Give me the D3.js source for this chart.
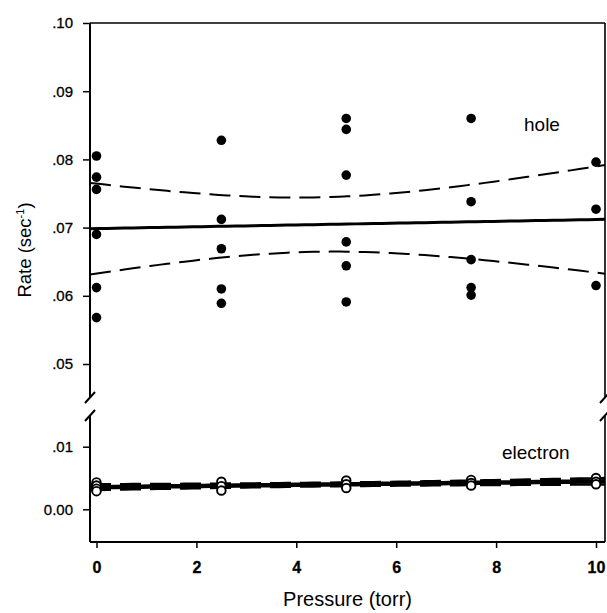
<!DOCTYPE html>
<html>
<head>
<meta charset="utf-8">
<script src="https://cdn.jsdelivr.net/npm/d3@7"></script>
<style>
  body { margin: 0; background: #fff; }
  svg { display: block; font-family: "Liberation Sans", Arial, sans-serif; }
</style>
</head>
<body>
<div id="chart"></div>
<script>
/**
 * CONSTANTS AND GLOBALS
 * */
const width = 607,
  height = 613,
  frame = { left: 90, right: 605, top: 23, bottom: 542 },
  breakTop = 397,
  breakBottom = 415;

/**
 * DATA
 * */
const ticksX = [0, 2, 4, 6, 8, 10];
const ticksHole = [0.05, 0.06, 0.07, 0.08, 0.09, 0.1];
const tickLabelsHole = [".05", ".06", ".07", ".08", ".09", ".10"];
const ticksElectron = [0, 0.01];
const tickLabelsElectron = ["0.00", ".01"];

const holePressure = [0, 0, 0, 0, 0, 0, 2.5, 2.5, 2.5, 2.5, 2.5, 5, 5, 5, 5, 5, 5, 7.5, 7.5, 7.5, 7.5, 7.5, 10, 10, 10];
const holeRate = [0.0805, 0.0774, 0.0756, 0.069, 0.0612, 0.0568,
  0.0828, 0.0712, 0.0669, 0.061, 0.0589,
  0.086, 0.0844, 0.0777, 0.0679, 0.0644, 0.0591,
  0.086, 0.0738, 0.0653, 0.0612, 0.0601,
  0.0796, 0.0727, 0.0615];

const electronPressure = [0, 0, 0, 0, 2.5, 2.5, 2.5, 5, 5, 5, 7.5, 7.5, 7.5, 10, 10, 10];
const electronRate = [0.0043, 0.0038, 0.0033, 0.0029,
  0.0044, 0.0037, 0.003,
  0.0046, 0.004, 0.0034,
  0.0047, 0.0042, 0.0038,
  0.005, 0.0044, 0.004];

// linear fit with 95% confidence band of the mean
function fit(xs, ys) {
  const n = xs.length,
    mx = d3.mean(xs),
    my = d3.mean(ys);
  const sxx = d3.sum(xs, v => (v - mx) ** 2);
  const sxy = d3.sum(xs, (v, i) => (v - mx) * (ys[i] - my));
  const b = sxy / sxx,
    a = my - b * mx;
  const sse = d3.sum(xs, (v, i) => (ys[i] - a - b * v) ** 2);
  const df = n - 2,
    s = Math.sqrt(sse / df),
    z = 1.959964;
  const t = z + (z ** 3 + z) / (4 * df) + (5 * z ** 5 + 16 * z ** 3 + 3 * z) / (96 * df * df);
  return p => {
    const yhat = a + b * p;
    const h = t * s * Math.sqrt(1 / n + (p - mx) ** 2 / sxx);
    return [yhat, yhat - h, yhat + h];
  };
}

/**
 * SCALES
 * */
const x = d3.scaleLinear().domain([0, 10]).range([96.5, 596]);
const yHole = d3.scaleLinear().domain([0.05, 0.1]).range([364, frame.top]);
const yElectron = d3.scaleLinear().domain([0, 0.01]).range([509.3, 446.7]);

const svg = d3.select("#chart")
  .append("svg")
  .attr("width", width)
  .attr("height", height);

// samples along the frame for the fitted curves
const x0 = x.invert(frame.left),
  x1 = x.invert(frame.right);
const samples = d3.range(0, 61).map(i => x0 + (x1 - x0) * i / 60);

function drawFit(xs, ys, yScale, solidWidth, dashWidth) {
  const f = fit(xs, ys);
  const styles = [
    { k: 0, w: solidWidth, dash: null },
    { k: 1, w: dashWidth, dash: "21,9" },
    { k: 2, w: dashWidth, dash: "21,9" }
  ];
  styles.forEach(st => {
    svg.append("path")
      .datum(samples)
      .attr("fill", "none")
      .attr("stroke", "#000")
      .attr("stroke-width", st.w)
      .attr("stroke-dasharray", st.dash)
      .attr("d", d3.line().x(d => x(d)).y(d => yScale(f(d)[st.k])));
  });
}

drawFit(holePressure, holeRate, yHole, 3, 2);
drawFit(electronPressure, electronRate, yElectron, 4.5, 2.6);

// hole points
svg.append("g")
  .selectAll("circle")
  .data(holeRate)
  .join("circle")
  .attr("cx", (d, i) => x(holePressure[i]))
  .attr("cy", d => yHole(d))
  .attr("r", 4.8)
  .attr("fill", "#000");

// electron points
svg.append("g")
  .selectAll("circle")
  .data(electronRate)
  .join("circle")
  .attr("cx", (d, i) => x(electronPressure[i]))
  .attr("cy", d => yElectron(d))
  .attr("r", 4.3)
  .attr("fill", "#fff")
  .attr("stroke", "#000")
  .attr("stroke-width", 1.9);

/**
 * FRAME
 * */
const frameLines = [
  [frame.left, frame.top, frame.right, frame.top, 1.6],
  [frame.left, frame.bottom, frame.right, frame.bottom, 1.8],
  [frame.left, frame.top, frame.left, breakTop, 2],
  [frame.left, breakBottom, frame.left, frame.bottom, 2],
  [frame.right, frame.top, frame.right, breakTop, 1.6],
  [frame.right, breakBottom, frame.right, frame.bottom, 1.6]
];
svg.append("g")
  .selectAll("line")
  .data(frameLines)
  .join("line")
  .attr("x1", d => d[0]).attr("y1", d => d[1])
  .attr("x2", d => d[2]).attr("y2", d => d[3])
  .attr("stroke", "#000")
  .attr("stroke-width", d => d[4]);

// axis break marks
[frame.left, frame.right].forEach(cx => {
  [breakTop, breakBottom].forEach(cy => {
    svg.append("line")
      .attr("x1", cx - 5).attr("y1", cy + 6)
      .attr("x2", cx + 5).attr("y2", cy - 5)
      .attr("stroke", "#000")
      .attr("stroke-width", 2);
  });
});

/**
 * AXES
 * */
function styleAxis(g, size, weight) {
  g.select(".domain").remove();
  g.attr("font-family", null).attr("font-size", size).attr("font-weight", weight);
  g.selectAll(".tick line").attr("stroke-width", 1.5);
  g.selectAll(".tick text").attr("fill", "#000")
    .attr("stroke", "#000").attr("stroke-width", 0.3);
}

svg.append("g")
  .attr("transform", `translate(${frame.left},0)`)
  .call(d3.axisLeft(yHole).tickValues(ticksHole)
    .tickFormat((d, i) => tickLabelsHole[i]).tickSize(7).tickPadding(10))
  .call(g => styleAxis(g, 15, "normal"));

svg.append("g")
  .attr("transform", `translate(${frame.left},0)`)
  .call(d3.axisLeft(yElectron).tickValues(ticksElectron)
    .tickFormat((d, i) => tickLabelsElectron[i]).tickSize(7).tickPadding(10))
  .call(g => styleAxis(g, 15, "normal"));

svg.append("g")
  .attr("transform", `translate(0,${frame.bottom})`)
  .call(d3.axisBottom(x).tickValues(ticksX).tickSize(6).tickPadding(14))
  .call(g => styleAxis(g, 16, "bold"));

/**
 * LABELS
 * */
svg.append("text")
  .attr("x", (frame.left + frame.right) / 2)
  .attr("y", 606)
  .attr("text-anchor", "middle")
  .attr("font-size", 20)
  .text("Pressure (torr)");

const yLabel = svg.append("text")
  .attr("transform", "translate(31,250) rotate(-90)")
  .attr("text-anchor", "middle")
  .attr("font-size", 18.5);
yLabel.append("tspan").text("Rate (sec");
yLabel.append("tspan").attr("font-size", 11).attr("dy", -7).text("-1");
yLabel.append("tspan").attr("dy", 7).text(")");

svg.append("text")
  .attr("x", 524)
  .attr("y", 131)
  .attr("font-size", 19)
  .text("hole");

svg.append("text")
  .attr("x", 502)
  .attr("y", 459)
  .attr("font-size", 19)
  .text("electron");
</script>
</body>
</html>
